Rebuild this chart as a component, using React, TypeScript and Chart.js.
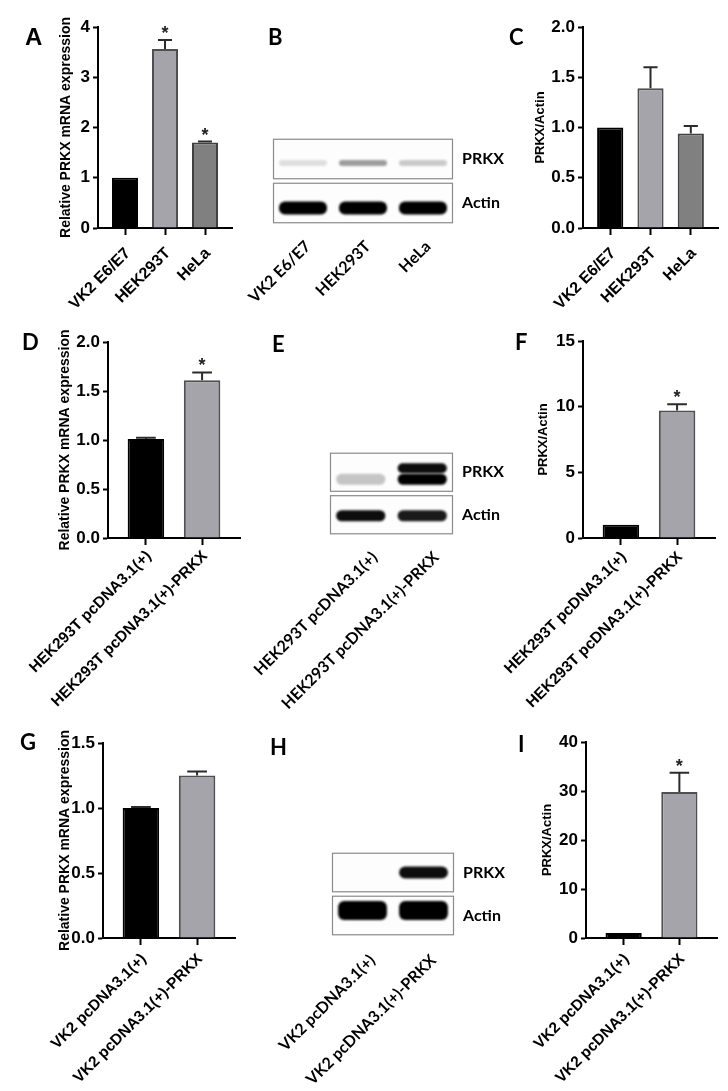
import React, { useEffect, useRef } from 'react';
import { Chart, registerables } from 'chart.js';

Chart.register(...registerables);

const ARIAL = '"Liberation Sans", Arial, sans-serif';
const CALIBRI = 'Lato, "Open Sans", sans-serif';
Chart.defaults.font.family = ARIAL;
Chart.defaults.color = '#000';

// ---------- DATA ----------
// Panel A
const aCategories = ['VK2 E6/E7', 'HEK293T', 'HeLa'];
const aValues = [1.0, 3.56, 1.7];
const aErrors = [0, 0.18, 0.02];
const aSignificant = [false, true, true];
const aYTicks = ['0', '1', '2', '3', '4'];
// Panel B (western blot band intensities)
const bLanes = ['VK2 E6/E7', 'HEK293T', 'HeLa'];
const bRows = ['PRKX', 'Actin'];
const bPRKX = [0.12, 0.38, 0.2];
const bActin = [1, 1, 1];
// Panel C
const cCategories = ['VK2 E6/E7', 'HEK293T', 'HeLa'];
const cValues = [1.0, 1.39, 0.94];
const cErrors = [0, 0.21, 0.075];
const cSignificant = [false, false, false];
const cYTicks = ['0.0', '0.5', '1.0', '1.5', '2.0'];
// Panel D
const dCategories = ['HEK293T pcDNA3.1(+)', 'HEK293T pcDNA3.1(+)-PRKX'];
const dValues = [1.01, 1.61];
const dErrors = [0.012, 0.08];
const dSignificant = [false, true];
const dYTicks = ['0.0', '0.5', '1.0', '1.5', '2.0'];
// Panel E
const eLanes = ['HEK293T pcDNA3.1(+)', 'HEK293T pcDNA3.1(+)-PRKX'];
const eRows = ['PRKX', 'Actin'];
const ePRKXUpper = [0, 0.95];
const ePRKXLower = [0.22, 1];
const eActin = [0.95, 0.9];
// Panel F
const fCategories = ['HEK293T pcDNA3.1(+)', 'HEK293T pcDNA3.1(+)-PRKX'];
const fValues = [1.0, 9.7];
const fErrors = [0, 0.48];
const fSignificant = [false, true];
const fYTicks = ['0', '5', '10', '15'];
// Panel G
const gCategories = ['VK2 pcDNA3.1(+)', 'VK2 pcDNA3.1(+)-PRKX'];
const gValues = [1.0, 1.25];
const gErrors = [0.008, 0.03];
const gSignificant = [false, false];
const gYTicks = ['0.0', '0.5', '1.0', '1.5'];
// Panel H
const hLanes = ['VK2 pcDNA3.1(+)', 'VK2 pcDNA3.1(+)-PRKX'];
const hRows = ['PRKX', 'Actin'];
const hPRKX = [0, 0.95];
const hActin = [1, 1];
// Panel I
const iCategories = ['VK2 pcDNA3.1(+)', 'VK2 pcDNA3.1(+)-PRKX'];
const iValues = [1.0, 29.8];
const iErrors = [0, 3.9];
const iSignificant = [false, true];
const iYTicks = ['0', '10', '20', '30', '40'];

const BAR_FILLS = ['#000000', '#a4a4aa', '#808080'];
const BAR_BORDERS = ['#000000', '#4f4f4f', '#404040'];

// ---------- PLUGINS ----------
const letterPlugin = {
  id: 'panelLetter',
  afterDraw(chart: any, _a: any, opts: any) {
    if (!opts || !opts.text) return;
    const ctx = chart.ctx;
    ctx.save();
    ctx.font = opts.font;
    ctx.fillStyle = '#000';
    ctx.textAlign = 'left';
    ctx.textBaseline = 'alphabetic';
    ctx.fillText(opts.text, opts.x, opts.y);
    ctx.restore();
  },
};

const errorBarPlugin = {
  id: 'errorBars',
  afterDatasetsDraw(chart: any) {
    const ds = chart.data.datasets[0];
    const meta = chart.getDatasetMeta(0);
    const yScale = chart.scales.y;
    const ctx = chart.ctx;
    meta.data.forEach((bar: any, i: number) => {
      const val = ds.data[i].y;
      const err = ds.errors[i];
      const topPx = yScale.getPixelForValue(val + err);
      if (err > 0) {
        ctx.save();
        ctx.strokeStyle = '#2b2b2b';
        ctx.lineWidth = 2;
        ctx.beginPath();
        ctx.moveTo(bar.x, bar.y);
        ctx.lineTo(bar.x, topPx);
        const cw = bar.width * 0.27;
        ctx.moveTo(bar.x - cw, topPx);
        ctx.lineTo(bar.x + cw, topPx);
        ctx.stroke();
        ctx.restore();
      }
      if (ds.significant[i]) {
        ctx.save();
        ctx.font = 'bold 18px ' + ARIAL;
        ctx.fillStyle = '#222';
        ctx.textAlign = 'center';
        ctx.textBaseline = 'alphabetic';
        ctx.fillText('*', bar.x, topPx - 1);
        ctx.restore();
      }
    });
  },
};

const blotPlugin = {
  id: 'blot',
  beforeDatasetsDraw(chart: any) {
    const { ctx, chartArea } = chart;
    const yScale = chart.scales.y;
    const rows = yScale.getLabels();
    const rowH = (chartArea.bottom - chartArea.top) / rows.length;
    ctx.save();
    rows.forEach((_r: string, r: number) => {
      const cy = yScale.getPixelForValue(r);
      const half = rowH * 0.46;
      ctx.fillStyle = '#fdfdfd';
      ctx.fillRect(chartArea.left, cy - half, chartArea.right - chartArea.left, half * 2);
      ctx.strokeStyle = '#8a8a8a';
      ctx.lineWidth = 1.2;
      ctx.strokeRect(chartArea.left + 0.5, cy - half + 0.5, chartArea.right - chartArea.left - 1, half * 2 - 1);
    });
    ctx.restore();
  },
  afterDatasetsDraw(chart: any) {
    const { ctx, chartArea } = chart;
    const xScale = chart.scales.x;
    const laneW = (chartArea.right - chartArea.left) / xScale.getLabels().length;
    chart.data.datasets.forEach((ds: any, k: number) => {
      const meta = chart.getDatasetMeta(k);
      meta.data.forEach((pt: any, i: number) => {
        const v = ds.intensity[i];
        if (!v) return;
        const bw = laneW * 0.8;
        const h = ds.bandHeight;
        const cx = pt.x;
        const cy = pt.y + ds.bandOffset;
        ctx.save();
        ctx.filter = 'blur(1.3px)';
        ctx.fillStyle = `rgba(0,0,0,${v})`;
        ctx.beginPath();
        ctx.roundRect(cx - bw / 2, cy - h / 2, bw, h, Math.min(h / 2, 6));
        ctx.fill();
        ctx.restore();
      });
    });
  },
};

// ---------- CONFIG BUILDERS ----------
type BarPanel = {
  canvas: { left: number; top: number; width: number; height: number };
  area: { left: number; top: number; right: number; bottom: number };
  categories: string[];
  values: number[];
  errors: number[];
  significant: boolean[];
  yTicks: string[];
  title: string;
  titleSize: number;
  titleX: number;
  labelPad: number;
  labelSize: number;
  letter: string;
  letterX: number;
  letterY: number;
  letterFont: string;
};

function barConfig(p: BarPanel): any {
  const n = p.categories.length;
  const pad = 0.675;
  const c = p.canvas;
  const yW = p.area.left - c.left;
  const xH = c.top + c.height - p.area.bottom;
  const tickVals = p.yTicks.map(Number);
  const lh = p.titleSize * 1.2;
  return {
    type: 'bar',
    data: {
      datasets: [
        {
          data: p.values.map((v, i) => ({ x: i, y: v })),
          errors: p.errors,
          significant: p.significant,
          backgroundColor: p.values.map((_, i) => BAR_FILLS[i]),
          borderColor: p.values.map((_, i) => BAR_BORDERS[i]),
          borderWidth: 2,
          borderSkipped: 'start',
          categoryPercentage: 1,
          barPercentage: 0.65,
        },
      ],
    },
    options: {
      animation: false,
      responsive: false,
      maintainAspectRatio: false,
      layout: { padding: { left: 0, top: p.area.top - c.top, right: c.left + c.width - p.area.right, bottom: 0 } },
      plugins: {
        legend: { display: false },
        tooltip: { enabled: false },
        panelLetter: { text: p.letter, x: p.letterX - c.left, y: p.letterY - c.top, font: p.letterFont },
      },
      scales: {
        x: {
          type: 'linear',
          min: -pad,
          max: n - 1 + pad,
          offset: false,
          afterBuildTicks: (s: any) => {
            s.ticks = p.categories.map((_, i) => ({ value: i }));
          },
          afterFit: (s: any) => {
            s.height = xH;
            s.paddingLeft = 0;
            s.paddingRight = 0;
          },
          ticks: {
            callback: (v: any) => p.categories[Math.round(v)],
            minRotation: 45,
            maxRotation: 45,
            autoSkip: false,
            padding: p.labelPad,
            labelOffset: 3,
            color: '#000',
            font: { size: p.labelSize, weight: 'bold', family: ARIAL },
          },
          grid: { display: true, offset: false, drawOnChartArea: false, drawTicks: true, tickLength: 7, tickWidth: 2, tickColor: '#000' },
          border: { display: true, width: 2, color: '#000' },
        },
        y: {
          min: 0,
          max: tickVals[tickVals.length - 1],
          afterBuildTicks: (s: any) => {
            s.ticks = tickVals.map((v) => ({ value: v }));
          },
          afterFit: (s: any) => {
            s.width = yW;
            s.paddingTop = 0;
            s.paddingBottom = 0;
          },
          ticks: {
            callback: (v: any) => p.yTicks[tickVals.indexOf(v)],
            padding: 3,
            color: '#000',
            font: { size: 17, weight: 'bold', family: ARIAL },
          },
          grid: { display: true, drawOnChartArea: false, drawTicks: true, tickLength: 5, tickWidth: 2, tickColor: '#000' },
          border: { display: true, width: 2, color: '#000' },
          title: {
            display: true,
            text: p.title,
            color: '#000',
            font: { size: p.titleSize, weight: 'bold', family: ARIAL },
            padding: { top: p.titleX - c.left - lh / 2, bottom: 0 },
          },
        },
      },
    },
    plugins: [errorBarPlugin, letterPlugin],
  };
}

type BlotSet = { row: string; intensity: number[]; bandOffset: number; bandHeight: number };
type BlotPanel = {
  canvas: { left: number; top: number; width: number; height: number };
  area: { left: number; top: number; right: number; bottom: number };
  lanes: string[];
  rows: string[];
  sets: BlotSet[];
  labelPad: number;
  labelOffset: number;
  letter: string;
  letterX: number;
  letterY: number;
};

function blotConfig(p: BlotPanel): any {
  const c = p.canvas;
  const yW = c.left + c.width - p.area.right;
  const xH = c.top + c.height - p.area.bottom;
  return {
    type: 'scatter',
    data: {
      datasets: p.sets.map((s) => ({
        label: s.row,
        data: p.lanes.map((l) => ({ x: l, y: s.row })),
        intensity: s.intensity,
        bandOffset: s.bandOffset,
        bandHeight: s.bandHeight,
        pointRadius: 0,
        pointHoverRadius: 0,
      })),
    },
    options: {
      animation: false,
      responsive: false,
      maintainAspectRatio: false,
      layout: { padding: { left: p.area.left - c.left, top: p.area.top - c.top, right: 0, bottom: 0 } },
      plugins: {
        legend: { display: false },
        tooltip: { enabled: false },
        panelLetter: { text: p.letter, x: p.letterX - c.left, y: p.letterY - c.top, font: 'bold 22px ' + CALIBRI },
      },
      scales: {
        x: {
          type: 'category',
          labels: p.lanes,
          offset: true,
          afterFit: (s: any) => {
            s.height = xH;
            s.paddingLeft = 0;
            s.paddingRight = 0;
          },
          ticks: {
            minRotation: 45,
            maxRotation: 45,
            autoSkip: false,
            padding: p.labelPad,
            labelOffset: p.labelOffset,
            color: '#000',
            font: { size: 16, weight: 'bold', family: CALIBRI },
          },
          grid: { display: false, drawTicks: false },
          border: { display: false },
        },
        y: {
          type: 'category',
          labels: p.rows,
          position: 'right',
          offset: true,
          afterFit: (s: any) => {
            s.width = yW;
            s.paddingTop = 0;
            s.paddingBottom = 0;
          },
          ticks: {
            padding: 9,
            autoSkip: false,
            color: '#000',
            font: { size: 16, weight: 'bold', family: CALIBRI },
          },
          grid: { display: false, drawTicks: false },
          border: { display: false },
        },
      },
    },
    plugins: [blotPlugin, letterPlugin],
  };
}

// ---------- PANELS ----------
const LETTER_ARIAL = 'bold 24px ' + ARIAL;
const LETTER_CAL = 'bold 22px ' + CALIBRI;

const panelA: BarPanel = {
  canvas: { left: 0, top: 0, width: 240, height: 315 },
  area: { left: 98, top: 27, right: 232, bottom: 228 },
  categories: aCategories, values: aValues, errors: aErrors, significant: aSignificant, yTicks: aYTicks,
  title: 'Relative PRKX mRNA expression', titleSize: 14, titleX: 66, labelPad: 9, labelSize: 16,
  letter: 'A', letterX: 25, letterY: 45, letterFont: LETTER_ARIAL,
};
const panelC: BarPanel = {
  canvas: { left: 480, top: 0, width: 248, height: 315 },
  area: { left: 583, top: 27, right: 718, bottom: 228 },
  categories: cCategories, values: cValues, errors: cErrors, significant: cSignificant, yTicks: cYTicks,
  title: 'PRKX/Actin', titleSize: 13, titleX: 540, labelPad: 9, labelSize: 16,
  letter: 'C', letterX: 509, letterY: 45, letterFont: LETTER_CAL,
};
const panelD: BarPanel = {
  canvas: { left: 0, top: 315, width: 245, height: 400 },
  area: { left: 108, top: 342, right: 240, bottom: 538 },
  categories: dCategories, values: dValues, errors: dErrors, significant: dSignificant, yTicks: dYTicks,
  title: 'Relative PRKX mRNA expression', titleSize: 14, titleX: 65, labelPad: 2, labelSize: 15.5,
  letter: 'D', letterX: 22, letterY: 350, letterFont: LETTER_CAL,
};
const panelF: BarPanel = {
  canvas: { left: 480, top: 315, width: 248, height: 400 },
  area: { left: 583, top: 341, right: 715, bottom: 538 },
  categories: fCategories, values: fValues, errors: fErrors, significant: fSignificant, yTicks: fYTicks,
  title: 'PRKX/Actin', titleSize: 13, titleX: 543, labelPad: 3, labelSize: 15.5,
  letter: 'F', letterX: 515, letterY: 350, letterFont: LETTER_CAL,
};
const panelG: BarPanel = {
  canvas: { left: 0, top: 705, width: 245, height: 386 },
  area: { left: 103, top: 743, right: 235, bottom: 938 },
  categories: gCategories, values: gValues, errors: gErrors, significant: gSignificant, yTicks: gYTicks,
  title: 'Relative PRKX mRNA expression', titleSize: 14, titleX: 65, labelPad: 5, labelSize: 15.5,
  letter: 'G', letterX: 20, letterY: 750, letterFont: LETTER_CAL,
};
const panelI: BarPanel = {
  canvas: { left: 480, top: 705, width: 248, height: 386 },
  area: { left: 586, top: 742, right: 717, bottom: 938 },
  categories: iCategories, values: iValues, errors: iErrors, significant: iSignificant, yTicks: iYTicks,
  title: 'PRKX/Actin', titleSize: 13, titleX: 547, labelPad: 5, labelSize: 15.5,
  letter: 'I', letterX: 518, letterY: 752, letterFont: LETTER_CAL,
};

const panelB: BlotPanel = {
  canvas: { left: 240, top: 0, width: 280, height: 315 },
  area: { left: 273, top: 137, right: 453, bottom: 225 },
  lanes: bLanes, rows: bRows,
  sets: [
    { row: 'PRKX', intensity: bPRKX, bandOffset: 4, bandHeight: 6 },
    { row: 'Actin', intensity: bActin, bandOffset: 5, bandHeight: 13 },
  ],
  labelPad: 12, labelOffset: 5, letter: 'B', letterX: 268, letterY: 45,
};
const panelE: BlotPanel = {
  canvas: { left: 240, top: 315, width: 280, height: 400 },
  area: { left: 330, top: 451, right: 453, bottom: 536 },
  lanes: eLanes, rows: eRows,
  sets: [
    { row: 'PRKX', intensity: ePRKXUpper, bandOffset: -4, bandHeight: 10 },
    { row: 'PRKX', intensity: ePRKXLower, bandOffset: 7, bandHeight: 11 },
    { row: 'Actin', intensity: eActin, bandOffset: 1, bandHeight: 11 },
  ],
  labelPad: 12, labelOffset: 14, letter: 'E', letterX: 272, letterY: 352,
};
const panelH: BlotPanel = {
  canvas: { left: 240, top: 705, width: 280, height: 386 },
  area: { left: 332, top: 851, right: 454, bottom: 937 },
  lanes: hLanes, rows: hRows,
  sets: [
    { row: 'PRKX', intensity: hPRKX, bandOffset: 0, bandHeight: 12 },
    { row: 'Actin', intensity: hActin, bandOffset: -5, bandHeight: 19 },
  ],
  labelPad: 14, labelOffset: 10, letter: 'H', letterX: 270, letterY: 755,
};

// ---------- COMPONENTS ----------
function ChartBox({ rect, make }: { rect: { left: number; top: number; width: number; height: number }; make: () => any }) {
  const ref = useRef<HTMLCanvasElement | null>(null);
  useEffect(() => {
    if (!ref.current) return;
    const chart = new Chart(ref.current, make());
    return () => chart.destroy();
  }, []);
  return (
    <div style={{ position: 'absolute', left: rect.left, top: rect.top, width: rect.width, height: rect.height }}>
      <canvas ref={ref} width={rect.width} height={rect.height} style={{ width: rect.width, height: rect.height, display: 'block' }} />
    </div>
  );
}

export default function App() {
  const bars = [panelA, panelC, panelD, panelF, panelG, panelI];
  const blots = [panelB, panelE, panelH];
  return (
    <div style={{ position: 'absolute', left: 0, top: 0, width: 728, height: 1091, background: '#fff', overflow: 'hidden' }}>
      {blots.map((p, k) => (
        <ChartBox key={'blot' + k} rect={p.canvas} make={() => blotConfig(p)} />
      ))}
      {bars.map((p, k) => (
        <ChartBox key={'bar' + k} rect={p.canvas} make={() => barConfig(p)} />
      ))}
    </div>
  );
}
